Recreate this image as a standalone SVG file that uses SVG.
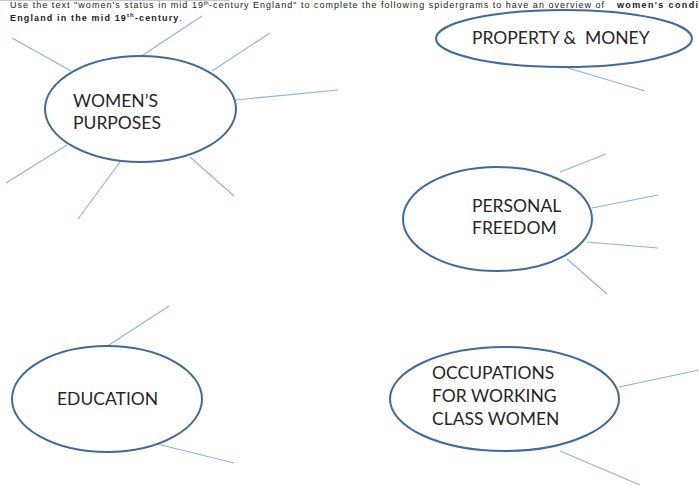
<svg xmlns="http://www.w3.org/2000/svg" width="699" height="485" viewBox="0 0 699 485">
  <style>
    .hub { fill: #ffffff; stroke: #41699a; stroke-width: 2; }
    .leg { stroke: #8fb2dc; stroke-width: 1.1; fill: none; }
    .lbl { font-family: Lato, "Open Sans", sans-serif; font-size: 17.5px; fill: #262626; }
    .hdr { font-family: "Liberation Sans", Arial, sans-serif; font-size: 9px; fill: #222222; }
    .b { font-weight: bold; }
    .sup { font-size: 6px; }
  </style>
  <rect width="699" height="485" fill="#ffffff"/>

  <!-- instruction heading (justified line, then bold second line) -->
  <g id="heading">
    <line x1="0" y1="0.5" x2="230" y2="0.5" stroke="#c8c8c8" stroke-width="1"/>
    <text class="hdr" x="10" y="7.5" textLength="193" lengthAdjust="spacing">Use the text "women's status in mid 19</text>
    <text class="hdr sup" x="203.5" y="4.5">th</text>
    <text class="hdr" x="209" y="7.5" textLength="395" lengthAdjust="spacing">-century England" to complete the following spidergrams to have an overview of</text>
    <text class="hdr b" x="617" y="7.5" font-size="10.5" textLength="81" lengthAdjust="spacing">women's condi</text>
    <text class="hdr b" x="10" y="20.5" font-size="11" textLength="172" lengthAdjust="spacing">England in the mid 19<tspan class="sup" dy="-4">th</tspan><tspan dy="4">-century</tspan><tspan font-weight="normal">.</tspan></text>
  </g>

  <!-- spokes radiating from each hub -->
  <g id="connectors">
    <line class="leg" x1="12" y1="38" x2="71" y2="71"/>
    <line class="leg" x1="143" y1="55" x2="202" y2="16"/>
    <line class="leg" x1="212" y1="71" x2="270" y2="33"/>
    <line class="leg" x1="235" y1="100" x2="338" y2="90"/>
    <line class="leg" x1="67" y1="145" x2="6" y2="183"/>
    <line class="leg" x1="120" y1="162" x2="78" y2="219"/>
    <line class="leg" x1="190" y1="157" x2="234" y2="196"/>

    <line class="leg" x1="568" y1="68" x2="645" y2="91"/>

    <line class="leg" x1="560" y1="172" x2="606" y2="154"/>
    <line class="leg" x1="592" y1="208" x2="658" y2="195"/>
    <line class="leg" x1="587" y1="242" x2="658" y2="248"/>
    <line class="leg" x1="567" y1="259" x2="607" y2="294"/>

    <line class="leg" x1="109" y1="345" x2="169" y2="306"/>
    <line class="leg" x1="157" y1="444" x2="234" y2="463"/>

    <line class="leg" x1="619" y1="387" x2="699" y2="370"/>
    <line class="leg" x1="560" y1="451" x2="640" y2="485"/>
  </g>

  <g id="womens-purposes">
    <ellipse class="hub" cx="140.5" cy="109" rx="95.5" ry="53"/>
    <text class="lbl" x="73" y="107">WOMEN’S</text>
    <text class="lbl" x="73" y="129">PURPOSES</text>
  </g>

  <g id="property-money">
    <ellipse class="hub" cx="564" cy="38.5" rx="128" ry="28.5"/>
    <text class="lbl" x="472" y="44" xml:space="preserve">PROPERTY &amp;  MONEY</text>
  </g>

  <g id="personal-freedom">
    <ellipse class="hub" cx="497.5" cy="219" rx="94.5" ry="52"/>
    <text class="lbl" x="472" y="212">PERSONAL</text>
    <text class="lbl" x="472" y="234">FREEDOM</text>
  </g>

  <g id="education">
    <ellipse class="hub" cx="107" cy="399" rx="95" ry="53"/>
    <text class="lbl" x="57" y="405">EDUCATION</text>
  </g>

  <g id="occupations">
    <ellipse class="hub" cx="504.5" cy="399" rx="114.5" ry="52"/>
    <text class="lbl" x="432" y="379">OCCUPATIONS</text>
    <text class="lbl" x="432" y="402">FOR WORKING</text>
    <text class="lbl" x="432" y="425">CLASS WOMEN</text>
  </g>
</svg>
